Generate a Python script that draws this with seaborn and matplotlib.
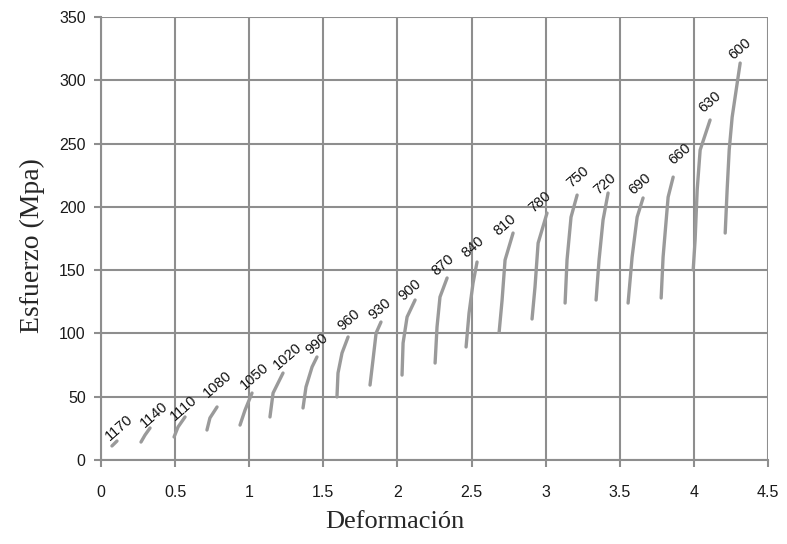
import matplotlib
matplotlib.use("Agg")
import matplotlib.pyplot as plt
import seaborn as sns
import pandas as pd

# Temperature of each hot-compression pass (label of each curve)
temperatures = [1170, 1140, 1110, 1080, 1050, 1020, 990, 960, 930, 900,
                870, 840, 810, 780, 750, 720, 690, 660, 630, 600]

# Strain / stress points along each flow curve
strain = [
    [0.074, 0.108],
    [0.270, 0.297, 0.331],
    [0.493, 0.520, 0.567],
    [0.715, 0.735, 0.783],
    [0.938, 0.972, 1.019],
    [1.140, 1.161, 1.228],
    [1.363, 1.383, 1.424, 1.457],
    [1.592, 1.599, 1.626, 1.667],
    [1.815, 1.835, 1.856, 1.889],
    [2.031, 2.038, 2.065, 2.119],
    [2.254, 2.267, 2.287, 2.335],
    [2.463, 2.483, 2.510, 2.537],
    [2.686, 2.706, 2.726, 2.780],
    [2.908, 2.928, 2.949, 3.009],
    [3.131, 3.144, 3.171, 3.212],
    [3.340, 3.360, 3.387, 3.421],
    [3.556, 3.583, 3.617, 3.657],
    [3.779, 3.792, 3.826, 3.860],
    [3.995, 4.008, 4.022, 4.042, 4.109],
    [4.211, 4.224, 4.238, 4.258, 4.312],
]
stress = [
    [11.1, 15.0],
    [14.2, 19.7, 25.3],
    [18.2, 26.1, 34.0],
    [23.7, 33.2, 41.9],
    [27.6, 39.5, 52.9],
    [34.0, 52.9, 68.7],
    [41.1, 57.7, 73.5, 81.4],
    [49.8, 68.7, 84.5, 97.2],
    [59.2, 79.0, 100.3, 109.0],
    [67.1, 92.4, 113.0, 126.4],
    [76.6, 105.1, 128.8, 143.8],
    [89.3, 116.1, 139.8, 156.4],
    [101.1, 126.4, 158.0, 179.3],
    [111.4, 136.7, 171.4, 195.1],
    [124.0, 158.0, 191.9, 209.3],
    [126.4, 158.0, 189.6, 210.9],
    [124.0, 160.3, 191.9, 207.0],
    [128.0, 160.3, 207.7, 223.5],
    [150.1, 173.8, 213.3, 244.9, 268.6],
    [179.3, 213.3, 244.9, 270.9, 313.6],
]

# Where each temperature tag is written
label_x = [0.074, 0.310, 0.513, 0.735, 0.985, 1.208, 1.424, 1.640, 1.849, 2.051,
           2.274, 2.476, 2.692, 2.928, 3.185, 3.367, 3.603, 3.873, 4.076, 4.278]
label_y = [13.4, 23.7, 29.2, 47.4, 53.7, 69.5, 81.4, 100.3, 109.0, 124.0,
           143.8, 158.0, 175.4, 193.5, 213.3, 207.7, 207.7, 231.4, 272.5, 314.4]

x_ticks = [0, 0.5, 1, 1.5, 2, 2.5, 3, 3.5, 4, 4.5]
x_tick_labels = ["0", "0.5", "1", "1.5", "2", "2.5", "3", "3.5", "4", "4.5"]
y_ticks = [0, 50, 100, 150, 200, 250, 300, 350]

rows = []
for t, xs, ys in zip(temperatures, strain, stress):
    for order, (x, y) in enumerate(zip(xs, ys)):
        rows.append({"temp": t, "order": order, "strain": x, "stress": y})
df = pd.DataFrame(rows)

sns.set_style("white")
sans = ["Liberation Sans", "DejaVu Sans"]
serif = ["Liberation Serif", "DejaVu Serif"]

GRID = "#8e8e8e"
CURVE = "#9a9a9a"

fig = plt.figure(figsize=(7.87, 5.44), dpi=100)
ax = fig.add_axes([0.1283, 0.1544, 0.8476, 0.8144])

sns.lineplot(data=df, x="strain", y="stress", units="temp", estimator=None,
             sort=False, color=CURVE, linewidth=2.4, ax=ax, legend=False,
             solid_capstyle="round", solid_joinstyle="round")

for t, lx, ly in zip(temperatures, label_x, label_y):
    ax.text(lx, ly, str(t), rotation=41, rotation_mode="anchor",
            ha="left", va="bottom", fontsize=10.5, family=sans, color="#111111")

ax.set_xlim(0, 4.5)
ax.set_ylim(0, 350)
ax.set_xticks(x_ticks)
ax.set_xticklabels(x_tick_labels)
ax.set_yticks(y_ticks)
ax.grid(True, color=GRID, linewidth=1.5)
ax.set_axisbelow(True)
for side in ["left", "bottom", "top", "right"]:
    ax.spines[side].set_visible(side in ("left", "bottom"))
    ax.spines[side].set_color(GRID)
    ax.spines[side].set_linewidth(1.5)

ax.tick_params(axis="both", which="both", length=5, width=1.5, color=GRID,
               labelsize=11.5, labelcolor="#1a1a1a")
ax.tick_params(axis="x", pad=13)
ax.tick_params(axis="y", pad=6)
ax.tick_params(left=True, bottom=True)
for lab in ax.get_xticklabels() + ax.get_yticklabels():
    lab.set_family(sans)

ax.set_xlabel("Deformación", family=serif, fontsize=19, labelpad=4)
ax.xaxis.set_label_coords(0.44, -0.115)
ax.set_ylabel("Esfuerzo (Mpa)", family=serif, fontsize=20)
ax.yaxis.set_label_coords(-0.084, 0.485)

fig.savefig("out.png", dpi=100)
